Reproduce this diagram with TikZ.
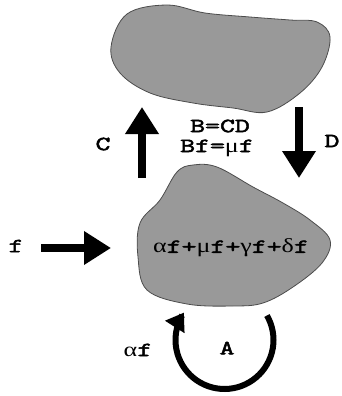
\documentclass[tikz,border=0pt]{standalone}
\usepackage{fontspec}
\usetikzlibrary{arrows.meta}
\newfontfamily\monof[FakeStretch=1.45,FakeBold=2.5]{Latin Modern Mono}
\newfontfamily\grf[FakeStretch=1.3]{Liberation Serif}
\definecolor{blobgray}{HTML}{999999}
\tikzset{
  blob/.style={fill=blobgray,draw=black!70,line width=0.8pt},
  lbl/.style={font=\fontsize{20}{23}\selectfont\monof,inner sep=0pt},
  bigarrow/.style={line width=8.5pt,-{Triangle[length=27pt,width=32pt]}},
  looparrow/.style={line width=6pt,-{Triangle[length=17pt,width=22pt]}}
}
\begin{document}
\begin{tikzpicture}[x=1pt,y=-1pt]
\useasboundingbox (0,0) rectangle (341,396);
% blobs
\draw[blob] plot[smooth cycle,tension=0.6] coordinates {(111,47) (127,14) (167,5) (205,13) (250,17) (290,20) (317,22) (330,37) (322,67) (300,93) (267,112) (233,108) (193,103) (150,93) (120,73)};
\draw[blob] plot[smooth cycle,tension=0.6] coordinates {(193,165) (217,167) (253,187) (283,203) (310,220) (330,240) (322,263) (293,287) (263,303) (233,306) (187,304) (147,290) (138,257) (140,223) (160,200) (177,172)};
\node[lbl] (sum) at (231,248) {{\grf α}f+{\grf μ}f+{\grf γ}f+{\grf δ}f};
% arrow endpoints
\coordinate (cs) at (142,178);
\coordinate (ce) at (142,107);
\coordinate (ds) at (299,107);
\coordinate (de) at (299,178);
\coordinate (fs) at (41,248);
\coordinate (fe) at (111,248);
\draw[bigarrow] (cs) -- (ce);
\draw[bigarrow] (ds) -- (de);
\draw[bigarrow] (fs) -- (fe);
% loop
\draw[looparrow] plot[smooth,domain=-30:214,samples=50] ({224.5+49*cos(\x)},{340+49*sin(\x)});
% labels
\node[lbl] (c) at (103,144) {C};
\node[lbl] (d) at (332,141) {D};
\node[lbl] (b1) at (220,126) {B=CD};
\node[lbl] (b2) at (217,148) {Bf={\grf μ}f};
\node[lbl] (f) at (16,246) {f};
\node[lbl] (af) at (138,350) {{\grf α}f};
\node[lbl] (a) at (227,348) {A};
\end{tikzpicture}
\end{document}
